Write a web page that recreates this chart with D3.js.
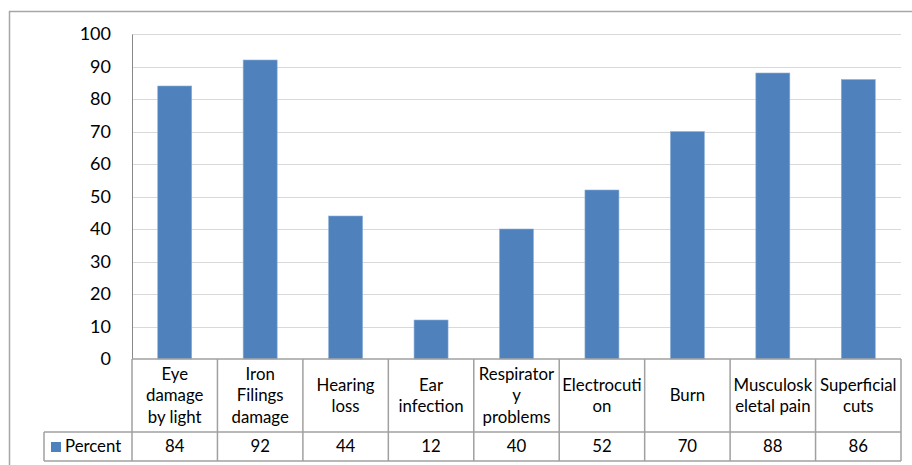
<!DOCTYPE html>
<html>
<head>
<meta charset="utf-8">
<script src="https://cdn.jsdelivr.net/npm/d3@7"></script>
<style>
  body { margin: 0; background: #fff; }
  text { font-family: Lato, "Open Sans", sans-serif; fill: #000; }
</style>
</head>
<body>
<div id="chart"></div>
<script>
// chart data
let categories = ["Eye\ndamage\nby light", "Iron\nFilings\ndamage", "Hearing\nloss", "Ear\ninfection",
    "Respirator\ny\nproblems", "Electrocuti\non", "Burn", "Musculosk\neletal pain", "Superficial\ncuts"];
let percent = [84, 92, 44, 12, 40, 52, 70, 88, 86];
let yTicks = [0, 10, 20, 30, 40, 50, 60, 70, 80, 90, 100];
let seriesName = "Percent";

let w = 912, h = 465;
let m = {top: 34, left: 132, right: 11, bottom: 106};
let rowCat = 73, rowVal = 29;
let blue = "#4f81bd";
let fs = "16.8px";

let svg = d3.select("#chart").append("svg")
    .attr("width", w)
    .attr("height", h);

// outer chart border (cropped at right and bottom)
svg.append("rect")
    .attr("x", 9.5).attr("y", 11.5)
    .attr("width", w + 20).attr("height", h + 20)
    .attr("fill", "none")
    .attr("stroke", "#a6a6a6")
    .attr("stroke-width", 1.5);

let x = d3.scaleBand()
    .domain(d3.range(categories.length))
    .range([m.left, w - m.right])
    .paddingInner(0).paddingOuter(0);

let y = d3.scaleLinear()
    .domain([0, 100])
    .range([h - m.bottom, m.top]);

// gridlines
svg.append("g")
    .selectAll("line")
    .data(yTicks.filter(d => d > 0))
    .enter().append("line")
    .attr("x1", m.left).attr("x2", w - m.right)
    .attr("y1", d => Math.round(y(d)) + 0.5)
    .attr("y2", d => Math.round(y(d)) + 0.5)
    .attr("stroke", "#d9d9d9");

// y axis
let yAxis = svg.append("g")
    .attr("transform", `translate(${m.left},0)`)
    .call(d3.axisLeft(y).tickValues(yTicks).tickSize(0).tickPadding(21));
yAxis.select(".domain").attr("stroke", "#888").attr("stroke-width", 1);
yAxis.selectAll("text")
    .style("font-size", "18px")
    .style("font-family", "Lato, 'Open Sans', sans-serif");

// bars
let bw = 34;
svg.append("g")
    .selectAll("rect")
    .data(percent)
    .enter().append("rect")
    .attr("x", (d, i) => x(i) + x.bandwidth() / 2 - bw / 2)
    .attr("y", d => y(d))
    .attr("width", bw)
    .attr("height", d => y(0) - y(d))
    .attr("fill", blue)
    .attr("stroke", "#8eb0d8")
    .attr("stroke-width", 0.6);

// data table
let t0 = y(0);
let table = svg.append("g")
    .attr("fill", "none")
    .attr("stroke", "#a0a0a0")
    .attr("stroke-width", 1.5);

// horizontal lines
table.append("line").attr("x1", m.left).attr("x2", w - m.right).attr("y1", t0).attr("y2", t0);
table.append("line").attr("x1", 44).attr("x2", w - m.right).attr("y1", t0 + rowCat).attr("y2", t0 + rowCat);
table.append("line").attr("x1", 44).attr("x2", w - m.right).attr("y1", t0 + rowCat + rowVal).attr("y2", t0 + rowCat + rowVal);
table.append("line").attr("x1", 44).attr("x2", 44).attr("y1", t0 + rowCat).attr("y2", t0 + rowCat + rowVal);

// vertical lines
table.selectAll(".vl")
    .data(d3.range(categories.length + 1))
    .enter().append("line")
    .attr("x1", i => i < categories.length ? x(i) : x.range()[1])
    .attr("x2", i => i < categories.length ? x(i) : x.range()[1])
    .attr("y1", t0).attr("y2", t0 + rowCat + rowVal);

// category labels
let lh = 21.5;
svg.append("g")
    .selectAll("text")
    .data(categories)
    .enter().append("text")
    .attr("text-anchor", "middle")
    .style("font-size", fs)
    .each(function(d, i) {
        let lines = d.split("\n");
        let cy = t0 + rowCat / 2 - (lines.length - 1) * lh / 2;
        d3.select(this).selectAll("tspan")
            .data(lines)
            .enter().append("tspan")
            .attr("x", x(i) + x.bandwidth() / 2)
            .attr("y", (l, k) => cy + k * lh)
            .attr("dy", "0.35em")
            .text(l => l);
    });

// value row
svg.append("g")
    .selectAll("text")
    .data(percent)
    .enter().append("text")
    .attr("x", (d, i) => x(i) + x.bandwidth() / 2)
    .attr("y", t0 + rowCat + rowVal / 2)
    .attr("dy", "0.35em")
    .attr("text-anchor", "middle")
    .style("font-size", fs)
    .text(d => d);

// legend key
svg.append("rect")
    .attr("x", 51).attr("y", t0 + rowCat + 10)
    .attr("width", 10).attr("height", 10)
    .attr("fill", blue);
svg.append("text")
    .attr("x", 65)
    .attr("y", t0 + rowCat + rowVal / 2)
    .attr("dy", "0.35em")
    .style("font-size", fs)
    .text(seriesName);
</script>
</body>
</html>
